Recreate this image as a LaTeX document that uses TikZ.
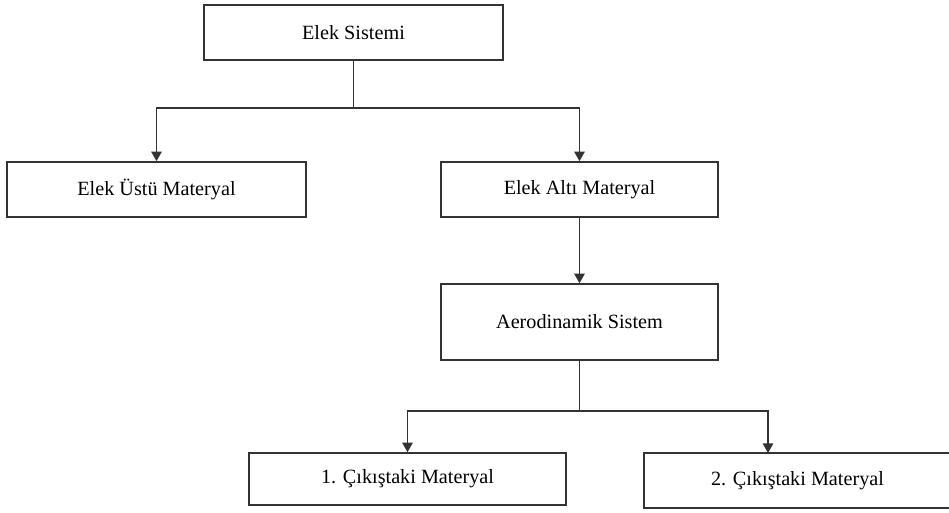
\documentclass[tikz,border=0pt]{standalone}
\usepackage{fontspec}
\setmainfont{Liberation Serif}
\usetikzlibrary{arrows.meta}

\tikzset{
    kutu/.style={draw=black!80, line width=0.9pt, inner sep=0pt, font=\fontsize{11.5}{13}\selectfont},
    ok/.style={draw=black!80, line width=0.8pt, -{Triangle[width=6pt,length=5.5pt]}}
}

\begin{document}
\begin{tikzpicture}[x=0.02cm, y=-0.02cm]
        \useasboundingbox (0,0) rectangle (949,512);
        \clip (0,0) rectangle (949,512);

        % Draw the boxes
        \node[kutu, minimum width=5.98cm, minimum height=1.1cm] (sistem) at (353.5,32.5) {Elek Sistemi};
        \node[kutu, minimum width=5.98cm, minimum height=1.1cm] (ustu) at (156.5,189.5) {Elek Üstü Materyal};
        \node[kutu, minimum width=5.54cm, minimum height=1.1cm] (alti) at (579.5,189.5) {Elek Altı Materyal};
        \node[kutu, minimum width=5.54cm, minimum height=1.52cm] (aero) at (579.5,322) {Aerodinamik Sistem};
        \node[kutu, minimum width=6.34cm, minimum height=1.04cm] (cikis1) at (407.5,479) {1. Çıkıştaki Materyal};
        \node[kutu, minimum width=6.14cm, minimum height=1.1cm] (cikis2) at (797.5,480.5) {2. Çıkıştaki Materyal};

        % Branch points
        \coordinate (dal1) at (353.5,108);
        \coordinate (dal2) at (579.5,411);
        \coordinate (giris2) at (768,453);

        % Draw connectors
        \draw[draw=black!80, line width=0.8pt] (sistem.south) -- (dal1);
        \draw[ok] (dal1) -| (ustu.north);
        \draw[ok] (dal1) -| (alti.north);
        \draw[ok] (alti.south) -- (aero.north);
        \draw[draw=black!80, line width=0.8pt] (aero.south) -- (dal2);
        \draw[ok] (dal2) -| (cikis1.north);
        \draw[ok] (dal2) -| (giris2);
    \end{tikzpicture}
\end{document}
